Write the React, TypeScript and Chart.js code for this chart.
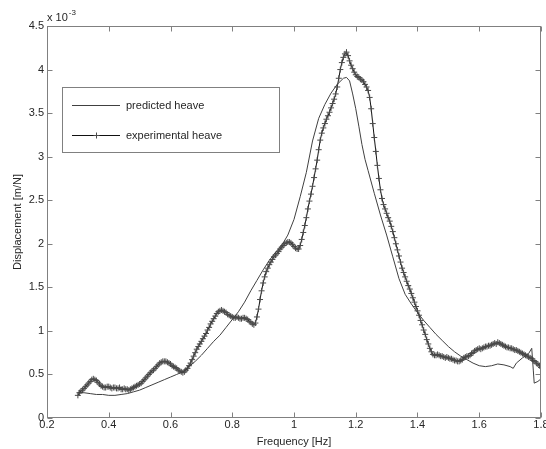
import React, { useEffect, useRef } from "react";
import { Chart, registerables } from "chart.js";

Chart.register(...registerables);

// Experimental heave: frequency [Hz] and displacement [x 1e-3 m/N]
const expFreq = [
  0.300, 0.305, 0.310, 0.315, 0.320, 0.325, 0.330, 0.335, 0.340, 0.345,
  0.350, 0.355, 0.360, 0.365, 0.370, 0.375, 0.380, 0.385, 0.390, 0.395,
  0.400, 0.405, 0.410, 0.415, 0.420, 0.425, 0.430, 0.435, 0.440, 0.445,
  0.450, 0.455, 0.460, 0.465, 0.470, 0.475, 0.480, 0.485, 0.490, 0.495,
  0.500, 0.505, 0.510, 0.515, 0.520, 0.525, 0.530, 0.535, 0.540, 0.545,
  0.550, 0.555, 0.560, 0.565, 0.570, 0.575, 0.580, 0.585, 0.590, 0.595,
  0.600, 0.605, 0.610, 0.615, 0.620, 0.625, 0.630, 0.635, 0.640, 0.645,
  0.650, 0.655, 0.660, 0.665, 0.670, 0.675, 0.680, 0.685, 0.690, 0.695,
  0.700, 0.705, 0.710, 0.715, 0.720, 0.725, 0.730, 0.735, 0.740, 0.745,
  0.750, 0.755, 0.760, 0.765, 0.770, 0.775, 0.780, 0.785, 0.790, 0.795,
  0.800, 0.805, 0.810, 0.815, 0.820, 0.825, 0.830, 0.835, 0.840, 0.845,
  0.850, 0.855, 0.860, 0.865, 0.870, 0.875, 0.880, 0.885, 0.890, 0.895,
  0.900, 0.905, 0.910, 0.915, 0.920, 0.925, 0.930, 0.935, 0.940, 0.945,
  0.950, 0.955, 0.960, 0.965, 0.970, 0.975, 0.980, 0.985, 0.990, 0.995,
  1.000, 1.005, 1.010, 1.015, 1.020, 1.025, 1.030, 1.035, 1.040, 1.045,
  1.050, 1.055, 1.060, 1.065, 1.070, 1.075, 1.080, 1.085, 1.090, 1.095,
  1.100, 1.105, 1.110, 1.115, 1.120, 1.125, 1.130, 1.135, 1.140, 1.145,
  1.150, 1.155, 1.160, 1.165, 1.170, 1.175, 1.180, 1.185, 1.190, 1.195,
  1.200, 1.205, 1.210, 1.215, 1.220, 1.225, 1.230, 1.235, 1.240, 1.245,
  1.250, 1.255, 1.260, 1.265, 1.270, 1.275, 1.280, 1.285, 1.290, 1.295,
  1.300, 1.305, 1.310, 1.315, 1.320, 1.325, 1.330, 1.335, 1.340, 1.345,
  1.350, 1.355, 1.360, 1.365, 1.370, 1.375, 1.380, 1.385, 1.390, 1.395,
  1.400, 1.405, 1.410, 1.415, 1.420, 1.425, 1.430, 1.435, 1.440, 1.445,
  1.450, 1.455, 1.460, 1.465, 1.470, 1.475, 1.480, 1.485, 1.490, 1.495,
  1.500, 1.505, 1.510, 1.515, 1.520, 1.525, 1.530, 1.535, 1.540, 1.545,
  1.550, 1.555, 1.560, 1.565, 1.570, 1.575, 1.580, 1.585, 1.590, 1.595,
  1.600, 1.605, 1.610, 1.615, 1.620, 1.625, 1.630, 1.635, 1.640, 1.645,
  1.650, 1.655, 1.660, 1.665, 1.670, 1.675, 1.680, 1.685, 1.690, 1.695,
  1.700, 1.705, 1.710, 1.715, 1.720, 1.725, 1.730, 1.735, 1.740, 1.745,
  1.750, 1.755, 1.760, 1.765, 1.770, 1.775, 1.780, 1.785, 1.790, 1.795,
  1.800,
];
const expDisp = [
  0.26, 0.29, 0.31, 0.32, 0.34, 0.36, 0.38, 0.40, 0.42, 0.44,
  0.45, 0.44, 0.43, 0.41, 0.39, 0.37, 0.36, 0.35, 0.35, 0.36,
  0.36, 0.35, 0.34, 0.35, 0.35, 0.34, 0.34, 0.35, 0.33, 0.33,
  0.34, 0.33, 0.33, 0.32, 0.33, 0.34, 0.35, 0.36, 0.37, 0.38,
  0.39, 0.40, 0.42, 0.44, 0.46, 0.48, 0.50, 0.52, 0.54, 0.55,
  0.57, 0.59, 0.61, 0.63, 0.64, 0.65, 0.65, 0.65, 0.64, 0.63,
  0.62, 0.60, 0.59, 0.58, 0.57, 0.55, 0.54, 0.53, 0.52, 0.53,
  0.55, 0.57, 0.60, 0.63, 0.67, 0.71, 0.75, 0.79, 0.82, 0.85,
  0.88, 0.91, 0.94, 0.97, 1.01, 1.04, 1.08, 1.11, 1.14, 1.17,
  1.20, 1.22, 1.23, 1.24, 1.23, 1.22, 1.21, 1.19, 1.18, 1.17,
  1.16, 1.15, 1.15, 1.16, 1.15, 1.14, 1.14, 1.15, 1.15, 1.14,
  1.13, 1.11, 1.10, 1.08, 1.07, 1.09, 1.16, 1.25, 1.36, 1.46,
  1.55, 1.62, 1.68, 1.72, 1.76, 1.79, 1.82, 1.85, 1.87, 1.89,
  1.91, 1.94, 1.96, 1.98, 2.00, 2.01, 2.02, 2.02, 2.01, 1.99,
  1.97, 1.95, 1.94, 1.94, 1.98, 2.05, 2.13, 2.21, 2.30, 2.40,
  2.49, 2.57, 2.66, 2.76, 2.86, 2.96, 3.08, 3.19, 3.27, 3.33,
  3.38, 3.43, 3.47, 3.51, 3.56, 3.61, 3.66, 3.72, 3.80, 3.90,
  4.00, 4.08, 4.14, 4.18, 4.20, 4.16, 4.10, 4.05, 4.01, 3.97,
  3.94, 3.92, 3.91, 3.89, 3.88, 3.86, 3.83, 3.80, 3.76, 3.68,
  3.55, 3.38, 3.22, 3.06, 2.90, 2.75, 2.62, 2.52, 2.45, 2.40,
  2.35, 2.30, 2.26, 2.20, 2.14, 2.07, 2.00, 1.93, 1.86, 1.79,
  1.72, 1.67, 1.62, 1.57, 1.52, 1.48, 1.43, 1.38, 1.33, 1.28,
  1.23, 1.18, 1.12, 1.07, 1.01, 0.96, 0.90, 0.85, 0.80, 0.76,
  0.73, 0.72, 0.72, 0.73, 0.72, 0.71, 0.71, 0.70, 0.69, 0.70,
  0.69, 0.68, 0.68, 0.67, 0.66, 0.66, 0.65, 0.65, 0.66, 0.67,
  0.69, 0.70, 0.71, 0.71, 0.72, 0.74, 0.75, 0.77, 0.78, 0.79,
  0.80, 0.79, 0.80, 0.81, 0.82, 0.82, 0.83, 0.83, 0.84, 0.85,
  0.86, 0.85, 0.87, 0.86, 0.85, 0.84, 0.83, 0.82, 0.81, 0.81,
  0.80, 0.80, 0.79, 0.78, 0.78, 0.77, 0.76, 0.75, 0.74, 0.73,
  0.72, 0.71, 0.70, 0.69, 0.68, 0.66, 0.65, 0.63, 0.62, 0.60,
  0.58,
];

// Predicted heave
const predFreq = [
  0.30, 0.32, 0.34, 0.36, 0.38, 0.40, 0.42, 0.44, 0.46, 0.48,
  0.50, 0.52, 0.54, 0.56, 0.58, 0.60, 0.62, 0.64, 0.66, 0.68,
  0.70, 0.72, 0.74, 0.76, 0.78, 0.80, 0.82, 0.84, 0.86, 0.88,
  0.90, 0.92, 0.94, 0.96, 0.98, 1.00, 1.02, 1.04, 1.06, 1.08,
  1.10, 1.12, 1.14, 1.16, 1.17, 1.18, 1.19, 1.20, 1.21, 1.22,
  1.23, 1.24, 1.26, 1.28, 1.30, 1.32, 1.34, 1.36, 1.38, 1.40,
  1.42, 1.44, 1.46, 1.48, 1.50, 1.52, 1.54, 1.56, 1.58, 1.60,
  1.62, 1.64, 1.66, 1.68, 1.70, 1.71, 1.72, 1.74, 1.76, 1.77,
  1.775, 1.778, 1.79, 1.80,
];
const predDisp = [
  0.29, 0.29, 0.28, 0.27, 0.27, 0.26, 0.26, 0.27, 0.28, 0.30,
  0.32, 0.35, 0.38, 0.41, 0.44, 0.47, 0.50, 0.53, 0.59, 0.65,
  0.72, 0.80, 0.88, 0.95, 1.04, 1.13, 1.22, 1.33, 1.46, 1.58,
  1.70, 1.81, 1.90, 1.98, 2.10, 2.28, 2.54, 2.82, 3.18, 3.44,
  3.60, 3.73, 3.83, 3.90, 3.91, 3.87, 3.72, 3.55, 3.35, 3.14,
  2.97, 2.84, 2.58, 2.33, 2.10, 1.85, 1.60, 1.42, 1.31, 1.21,
  1.12, 1.04, 0.96, 0.89, 0.82, 0.76, 0.71, 0.67, 0.63, 0.60,
  0.59, 0.60, 0.62, 0.61, 0.59, 0.57, 0.63, 0.69, 0.74, 0.80,
  0.55, 0.40, 0.42, 0.45,
];

const seriesNames = ["predicted heave", "experimental heave"];
const xTitle = "Frequency [Hz]";
const yTitle = "Displacement [m/N]";
const yExponent = "-3";
const xRange = [0.2, 1.8];
const yRange = [0, 4.5];

const FONT = '"Liberation Sans", Arial, sans-serif';
const AXIS = "#808080";
const TEXT = "#262626";
const PRED_COLOR = "#404040";
const EXP_LINE = "#111111";
const EXP_MARK = "#4a4a4a";

const fmt = (v: number) => String(Math.round(v * 100) / 100);

export default function App() {
  const ref = useRef<HTMLCanvasElement>(null);

  useEffect(() => {
    if (!ref.current) return;

    const framePlugin = {
      id: "matlabFrame",
      afterDraw(chart: any) {
        const { ctx, chartArea: a, scales } = chart;
        const xs = scales.x;
        const ys = scales.y;
        ctx.save();
        ctx.strokeStyle = AXIS;
        ctx.lineWidth = 1;
        const L = Math.round(a.left) + 0.5;
        const R = Math.round(a.right) - 0.5;
        const T = Math.round(a.top) + 0.5;
        const B = Math.round(a.bottom) - 0.5;
        ctx.strokeRect(L, T, R - L, B - T);
        ctx.beginPath();
        xs.ticks.forEach((t: any) => {
          const px = Math.round(xs.getPixelForValue(t.value)) + 0.5;
          ctx.moveTo(px, B);
          ctx.lineTo(px, B - 5);
          ctx.moveTo(px, T);
          ctx.lineTo(px, T + 5);
        });
        ys.ticks.forEach((t: any) => {
          const py = Math.round(ys.getPixelForValue(t.value)) + 0.5;
          ctx.moveTo(L, py);
          ctx.lineTo(L + 5, py);
          ctx.moveTo(R, py);
          ctx.lineTo(R - 5, py);
        });
        ctx.stroke();

        // exponent label
        ctx.fillStyle = TEXT;
        ctx.textBaseline = "middle";
        ctx.textAlign = "left";
        ctx.font = `11px ${FONT}`;
        const base = "x 10";
        ctx.fillText(base, a.left, a.top - 8);
        const bw = ctx.measureText(base).width;
        ctx.font = `8px ${FONT}`;
        ctx.fillText(yExponent, a.left + bw + 1, a.top - 13);

        // legend
        const lx = 62.5, ly = 87.5, lw = 217, lh = 65;
        ctx.fillStyle = "#ffffff";
        ctx.fillRect(lx, ly, lw, lh);
        ctx.strokeStyle = AXIS;
        ctx.strokeRect(lx, ly, lw, lh);
        const rows = [105.5, 135.5];
        ctx.font = `11px ${FONT}`;
        ctx.textBaseline = "middle";
        rows.forEach((y, i) => {
          ctx.strokeStyle = i === 0 ? PRED_COLOR : EXP_LINE;
          ctx.lineWidth = 1;
          ctx.beginPath();
          ctx.moveTo(72, y);
          ctx.lineTo(120, y);
          ctx.stroke();
          if (i === 1) {
            ctx.strokeStyle = EXP_MARK;
            ctx.beginPath();
            ctx.moveTo(96.5, y - 3);
            ctx.lineTo(96.5, y + 3);
            ctx.moveTo(93.5, y);
            ctx.lineTo(99.5, y);
            ctx.stroke();
          }
          ctx.fillStyle = TEXT;
          ctx.fillText(seriesNames[i], 126, y);
        });
        ctx.restore();
      },
    };

    const chart = new Chart(ref.current, {
      type: "line",
      data: {
        datasets: [
          {
            label: seriesNames[0],
            data: predFreq.map((x, i) => ({ x, y: predDisp[i] })),
            borderColor: PRED_COLOR,
            borderWidth: 1,
            pointRadius: 0,
            tension: 0,
            fill: false,
          },
          {
            label: seriesNames[1],
            data: expFreq.map((x, i) => ({ x, y: expDisp[i] })),
            borderColor: EXP_LINE,
            borderWidth: 1,
            pointStyle: "cross",
            pointRadius: 3,
            pointBorderColor: EXP_MARK,
            pointBorderWidth: 1,
            pointBackgroundColor: EXP_MARK,
            tension: 0,
            fill: false,
          },
        ],
      },
      options: {
        animation: false,
        responsive: false,
        devicePixelRatio: 1,
        layout: { padding: { left: 0, top: 26, right: 4, bottom: 0 } },
        plugins: {
          legend: { display: false },
          tooltip: { enabled: false },
        },
        scales: {
          x: {
            type: "linear",
            min: xRange[0],
            max: xRange[1],
            grid: { display: false, drawTicks: false },
            border: { display: false },
            ticks: {
              stepSize: 0.2,
              padding: 0,
              color: TEXT,
              font: { family: FONT, size: 11 },
              maxRotation: 0,
              autoSkip: false,
              callback: (v: any) => fmt(Number(v)),
            },
            title: {
              display: true,
              text: xTitle,
              color: TEXT,
              font: { family: FONT, size: 11 },
              padding: { top: 0, bottom: 0 },
            },
            afterFit: (s: any) => {
              s.height = 31;
              s.paddingLeft = 0;
              s.paddingRight = 0;
            },
          },
          y: {
            type: "linear",
            min: yRange[0],
            max: yRange[1],
            grid: { display: false, drawTicks: false },
            border: { display: false },
            ticks: {
              stepSize: 0.5,
              padding: 3,
              color: TEXT,
              font: { family: FONT, size: 11 },
              autoSkip: false,
              callback: (v: any) => fmt(Number(v)),
            },
            title: {
              display: true,
              text: yTitle,
              color: TEXT,
              font: { family: FONT, size: 11 },
              padding: { top: 11, bottom: 0 },
            },
            afterFit: (s: any) => {
              s.width = 47;
              s.paddingTop = 0;
              s.paddingBottom = 0;
            },
          },
        },
      },
      plugins: [framePlugin],
    } as any);

    return () => chart.destroy();
  }, []);

  return (
    <div
      style={{
        position: "absolute",
        left: 0,
        top: 0,
        width: 546,
        height: 449,
        background: "#ffffff",
      }}
    >
      <canvas ref={ref} width={546} height={449} style={{ display: "block" }} />
    </div>
  );
}
